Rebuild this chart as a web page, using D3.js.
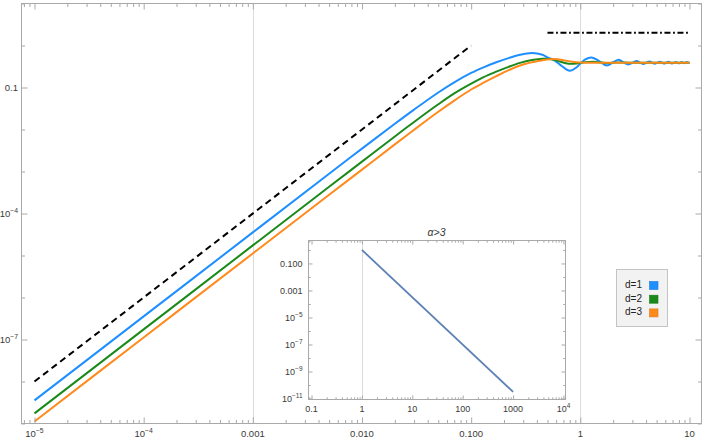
<!DOCTYPE html>
<html><head><meta charset="utf-8">
<script src="https://cdn.jsdelivr.net/npm/d3@7"></script>
<style>body{margin:0;background:#fff}svg{display:block}text{font-family:"Liberation Sans",Arial,sans-serif}</style>
</head><body><svg id="c" width="706" height="438"></svg>
<script>
// ---------- data ----------
const seriesNames = ["d=1", "d=2", "d=3"];
const blueX = [1e-5,1e-4,1e-3,0.005,0.01,0.02,0.03,0.05,0.07,0.1,0.13,0.17,0.22,0.28,0.36,0.45,0.5,0.58,0.68,0.8,0.92,1.0,1.1,1.27,1.5,1.75,2.0,2.25,2.5,2.75,3.02,3.28,3.53,3.78,4.04,4.3,4.55,4.8,5.08,5.35,5.62,5.88,6.14,6.4,6.68,6.95,7.22,7.5,7.75,8.0,8.25,8.5,8.75,9.0,9.22,9.45,9.72,10];
const blueY = [3.55e-9,3.55e-7,3.55e-5,8.85e-4,3.5e-3,0.0137,0.0298,0.0762,0.133,0.222,0.302,0.398,0.50,0.60,0.66,0.60,0.52,0.44,0.32,0.25,0.30,0.37,0.46,0.52,0.42,0.334,0.40,0.457,0.39,0.355,0.39,0.427,0.39,0.363,0.39,0.418,0.39,0.366,0.39,0.412,0.39,0.371,0.39,0.408,0.39,0.373,0.39,0.406,0.39,0.376,0.39,0.404,0.39,0.378,0.39,0.403,0.39,0.388];
const greenX = [1e-5,1e-4,1e-3,0.005,0.01,0.02,0.03,0.05,0.07,0.1,0.13,0.17,0.22,0.28,0.36,0.45,0.55,0.65,0.78,0.92,1.1,1.3,1.55,1.8,2.1,2.4,2.8,3.5,5,7,10];
const greenY = [1.74e-9,1.74e-7,1.74e-5,4.33e-4,1.72e-3,0.00684,0.0151,0.0398,0.0725,0.124,0.177,0.238,0.31,0.385,0.45,0.485,0.47,0.415,0.37,0.372,0.398,0.41,0.395,0.383,0.393,0.394,0.389,0.39,0.39,0.39,0.39];
const orangeX = [1e-5,1e-4,1e-3,0.005,0.01,0.02,0.03,0.05,0.07,0.1,0.13,0.17,0.22,0.28,0.36,0.45,0.53,0.62,0.72,0.85,1.0,1.2,1.5,2,3,5,7,10];
const orangeY = [1.12e-9,1.12e-7,1.12e-5,2.79e-4,1.11e-3,0.00442,0.00984,0.0264,0.0489,0.0896,0.13,0.186,0.258,0.335,0.40,0.448,0.472,0.47,0.44,0.41,0.395,0.39,0.388,0.39,0.39,0.39,0.39,0.39];
const slopeRefX = [1e-5, 0.1];
const slopeRefY = [1e-8, 1];
const plateauX = [0.5, 10];
const plateauY = [2, 2];
const insetX = [1, 1000];
const insetY = [1, 3.16e-11];
const insetTitle = "α>3";

const mainXTicks = [1e-5,1e-4,1e-3,0.01,0.1,1,10];
const mainXLabels = ["10^-5","10^-4","0.001","0.010","0.100","1","10"];
const mainYTicks = [0.1,1e-4,1e-7];
const mainYLabels = ["0.1","10^-4","10^-7"];
const mainGrid = [0.001, 1];
const insetXTicks = [0.1,1,10,100,1000,1e4];
const insetXLabels = ["0.1","1","10","100","1000","10^4"];
const insetYTicks = [0.1,1e-3,1e-5,1e-7,1e-9,1e-11];
const insetYLabels = ["0.100","0.001","10^-5","10^-7","10^-9","10^-11"];
const insetGrid = [1];

// ---------- styles ----------
const colors = ["#1e8fff", "#1b8a1b", "#ff8a1c"];
const frameColor = "#a9a9a9", labelColor = "#3a3a3a", gridColor = "#dcdcdc";

const svg = d3.select("#c");
const x = d3.scaleLog().domain([Math.pow(10,-5.119), Math.pow(10,1.11)]).range([21.5, 701.5]);
const y = d3.scaleLog().domain([1e-9, 10]).range([423.5, 3.5]);
const ix = d3.scaleLog().domain([Math.pow(10,-1.06), Math.pow(10,4.04)]).range([308.5, 565.5]);
const iy = d3.scaleLog().domain([Math.pow(10,-11.07), Math.pow(10,0.7)]).range([399.5, 240.5]);

function minorTicks(scale, lo, hi, all) {
  const out = [];
  const [d0, d1] = scale.domain();
  for (let e = lo; e <= hi; e++) {
    if (all) { for (let k = 2; k <= 9; k++) { const v = k * Math.pow(10, e); if (v >= d0 && v <= d1) out.push(v); } }
    else { const v = Math.pow(10, e); if (v >= d0 && v <= d1) out.push(v); }
  }
  return out;
}
function addLabel(g, px, py, label, anchor, size) {
  const t = g.append("text").attr("x", px).attr("y", py).attr("text-anchor", anchor)
    .attr("font-size", size).attr("fill", labelColor);
  if (label.includes("^")) {
    const [b, e] = label.split("^");
    t.append("tspan").text(b);
    t.append("tspan").attr("dy", -size * 0.42).attr("font-size", size * 0.72).text(e.replace("-", "\u2212"));
  } else t.text(label);
}
function ticksGroup(axisFn, scale, vals, len, tx, ty) {
  const g = svg.append("g").attr("transform", `translate(${tx},${ty})`)
    .call(axisFn(scale).tickValues(vals).tickSize(-len).tickSizeOuter(0).tickFormat(""));
  g.select(".domain").remove();
  g.selectAll(".tick line").attr("stroke", frameColor);
  return g;
}
const notMajor = majors => v => !majors.some(t => Math.abs(Math.log10(t) - Math.log10(v)) < 1e-6);

// ---------- main plot ----------
svg.append("g").selectAll("line").data(mainGrid).join("line")
  .attr("x1", d => Math.round(x(d)) + 0.5).attr("x2", d => Math.round(x(d)) + 0.5)
  .attr("y1", 3.5).attr("y2", 423.5).attr("stroke", gridColor);

const line = (sx, sy) => d3.line().x(d => sx(d[0])).y(d => sy(d[1])).curve(d3.curveCatmullRom.alpha(0.5));
const series = [d3.zip(blueX, blueY), d3.zip(greenX, greenY), d3.zip(orangeX, orangeY)];
series.forEach((s, i) => {
  svg.append("path").datum(s).attr("d", line(x, y)).attr("fill", "none")
    .attr("stroke", colors[i]).attr("stroke-width", 2).attr("stroke-linejoin", "round");
});
svg.append("path").datum(d3.zip(slopeRefX, slopeRefY)).attr("d", line(x, y)).attr("fill", "none")
  .attr("stroke", "#000").attr("stroke-width", 2).attr("stroke-dasharray", "6.5,4.3");
svg.append("path").datum(d3.zip(plateauX, plateauY)).attr("d", line(x, y)).attr("fill", "none")
  .attr("stroke", "#000").attr("stroke-width", 2).attr("stroke-dasharray", "6,2.6,1.8,2.6");

const mxMinor = minorTicks(x, -6, 1, true);
const myMinor = minorTicks(y, -9, 1, false).filter(notMajor(mainYTicks));
ticksGroup(d3.axisBottom, x, mainXTicks, 6, 0, 423.5);
ticksGroup(d3.axisBottom, x, mxMinor, 3.5, 0, 423.5);
ticksGroup(d3.axisTop, x, mainXTicks, 6, 0, 3.5);
ticksGroup(d3.axisTop, x, mxMinor, 3.5, 0, 3.5);
ticksGroup(d3.axisLeft, y, mainYTicks, 6, 21.5, 0);
ticksGroup(d3.axisLeft, y, myMinor, 3.5, 21.5, 0);
ticksGroup(d3.axisRight, y, mainYTicks, 6, 701.5, 0);
ticksGroup(d3.axisRight, y, myMinor, 3.5, 701.5, 0);
svg.append("rect").attr("x", 21.5).attr("y", 3.5).attr("width", 680).attr("height", 420)
  .attr("fill", "none").attr("stroke", frameColor);

const lab = svg.append("g");
mainXTicks.forEach((t, i) => addLabel(lab, x(t), 436.5, mainXLabels[i], "middle", 9.5));
mainYTicks.forEach((t, i) => addLabel(lab, 18, y(t) + 3.4, mainYLabels[i], "end", 9.5));

// ---------- inset ----------
svg.append("rect").attr("x", 308.5).attr("y", 240.5).attr("width", 257).attr("height", 159).attr("fill", "#fff");
svg.append("g").selectAll("line").data(insetGrid).join("line")
  .attr("x1", d => Math.round(ix(d)) + 0.5).attr("x2", d => Math.round(ix(d)) + 0.5)
  .attr("y1", 240.5).attr("y2", 399.5).attr("stroke", gridColor);
svg.append("path").datum(d3.zip(insetX, insetY)).attr("d", line(ix, iy)).attr("fill", "none")
  .attr("stroke", "#5e81b5").attr("stroke-width", 1.8);
const ixMinor = minorTicks(ix, -2, 4, true);
const iyMinor = minorTicks(iy, -12, 1, false).filter(notMajor(insetYTicks));
ticksGroup(d3.axisBottom, ix, insetXTicks, 4, 0, 399.5);
ticksGroup(d3.axisBottom, ix, ixMinor, 2.2, 0, 399.5);
ticksGroup(d3.axisTop, ix, insetXTicks, 4, 0, 240.5);
ticksGroup(d3.axisTop, ix, ixMinor, 2.2, 0, 240.5);
ticksGroup(d3.axisLeft, iy, insetYTicks, 4, 308.5, 0);
ticksGroup(d3.axisLeft, iy, iyMinor, 2.2, 308.5, 0);
ticksGroup(d3.axisRight, iy, insetYTicks, 4, 565.5, 0);
ticksGroup(d3.axisRight, iy, iyMinor, 2.2, 565.5, 0);
svg.append("rect").attr("x", 308.5).attr("y", 240.5).attr("width", 257).attr("height", 159)
  .attr("fill", "none").attr("stroke", frameColor);
insetXTicks.forEach((t, i) => addLabel(lab, ix(t), 411.5, insetXLabels[i], "middle", 9));
insetYTicks.forEach((t, i) => addLabel(lab, 302.5, iy(t) + 3.2, insetYLabels[i], "end", 9));
svg.append("text").attr("x", 436.5).attr("y", 236).attr("text-anchor", "middle")
  .attr("font-size", 10.5).attr("fill", labelColor).attr("font-style", "italic").text(insetTitle);

// ---------- legend ----------
const leg = svg.append("g");
leg.append("rect").attr("x", 616.5).attr("y", 269.5).attr("width", 51).attr("height", 57)
  .attr("fill", "#f2f2f2").attr("stroke", "#c4c4c4");
seriesNames.forEach((n, i) => {
  leg.append("text").attr("x", 625).attr("y", 287.8 + i * 13.7).attr("font-size", 10)
    .attr("fill", "#222").text(n);
  leg.append("rect").attr("x", 649.5).attr("y", 281.5 + i * 13.7).attr("width", 8.5).attr("height", 8)
    .attr("fill", colors[i]).attr("stroke", d3.color(colors[i]).darker(0.4)).attr("stroke-width", 0.6);
});
</script></body></html>
